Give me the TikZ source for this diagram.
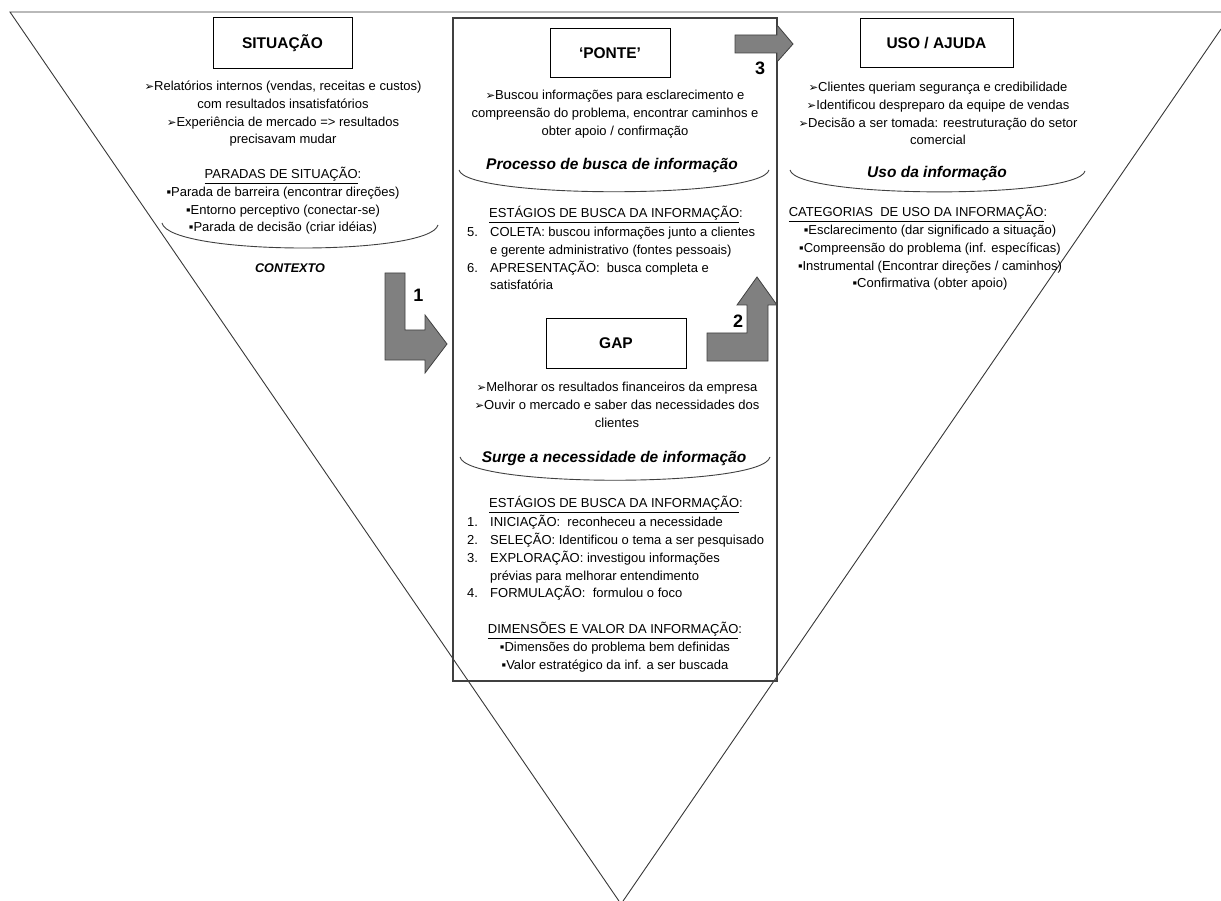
\documentclass[tikz,border=0pt]{standalone}
\usepackage{fontspec}
\setmainfont{Liberation Sans}
\newfontfamily\dingfont{DejaVu Sans}
\newcommand{\arrowbullet}{{\dingfont\fontsize{11.5}{11.5}\selectfont ➢}}
\newcommand{\sqbullet}{▪}
\newcommand{\firststrut}{\rule{0pt}{12.5pt}}
\newcommand{\headul}[1]{\underline{#1}}
\newcommand{\numitem}[1]{\makebox[23pt][l]{#1}}
\newcommand{\numcont}{\hspace*{23pt}}

\begin{document}
\begin{tikzpicture}[x=1pt,y=-1pt,
  body/.style={font=\fontsize{13}{17.7}\selectfont, inner sep=0pt, align=center, anchor=north},
  listbody/.style={font=\fontsize{13}{17.7}\selectfont, inner sep=0pt, align=left, anchor=north west},
  titlebox/.style={draw=black, line width=0.8pt, fill=white, inner sep=0pt,
    text height=11.1pt, text depth=0pt, font=\fontsize{15.5}{15.5}\selectfont\bfseries},
  sectiontitle/.style={font=\fontsize{15.5}{15.5}\selectfont\bfseries\itshape, inner sep=0pt, anchor=base},
  flow/.style={draw=black!75, fill=black!50, line width=0.8pt, line join=miter},
  stepnum/.style={font=\fontsize{18}{18}\selectfont\bfseries, inner sep=0pt, anchor=base},
  bowl/.style={draw=black!75, line width=0.9pt},
  funnel/.style={draw=black!78, line width=0.9pt},
  frame/.style={draw=black!75, line width=1.3pt},
]
\useasboundingbox (0,0) rectangle (1221,901);

% inverted triangle (funnel)
\begin{scope}
  \clip (0,0) rectangle (1221,901);
  \draw[funnel] (1221,12) -- (10,12) -- (621,904) -- (1221,29);
\end{scope}

% central frame
\draw[frame] (453,18) rectangle (777,681);

% ---------- left column: situation ----------
\node[titlebox, minimum width=139pt, minimum height=51pt] (sit) at (282.5,42.5) {SITUAÇÃO};
\node[body] (sitA) at (283,78.2) {\firststrut\arrowbullet Relatórios internos (vendas, receitas e custos)\\
  com resultados insatisfatórios\\
  \arrowbullet Experiência de mercado => resultados\\
  precisavam mudar};
\node[body] (sitB) at (283,166.2) {\firststrut\headul{PARADAS DE SITUAÇÃO}:\\
  \sqbullet Parada de barreira (encontrar direções)\\
  \sqbullet Entorno perceptivo (conectar-se)\\
  \sqbullet Parada de decisão (criar idéias)};
\draw[bowl] (162,223) .. controls (170,256) and (430,256) .. (438,225);
\node[font=\fontsize{12.6}{12.6}\selectfont\bfseries\itshape, inner sep=0pt, anchor=base] (ctx) at (290,272.5) {CONTEXTO};

% ---------- centre: bridge ----------
\node[titlebox, minimum width=120pt, minimum height=49pt] (ponte) at (610,52.5) {‘PONTE’};
\node[body] (ponA) at (615,87.2) {\firststrut\arrowbullet Buscou informações para esclarecimento e\\
  compreensão do problema, encontrar caminhos e\\
  obter apoio / confirmação};
\node[sectiontitle] (proc) at (612,170) {Processo de busca de informação};
\draw[bowl] (459,170) .. controls (466,199) and (762,199) .. (769,170);
\node[body] (ponH) at (616,205.2) {\firststrut\headul{ESTÁGIOS DE BUSCA DA INFORMAÇÃO}:};
\node[listbody] (ponL) at (467,224.2) {\firststrut\numitem{5.}COLETA: buscou informações junto a clientes\\
  \numcont e gerente administrativo (fontes pessoais)\\
  \numitem{6.}APRESENTAÇÃO:\ \ busca completa e\\
  \numcont satisfatória};

% ---------- centre: gap ----------
\node[titlebox, minimum width=140pt, minimum height=50pt] (gap) at (616,343) {GAP};
\node[body] (gapA) at (617,379.2) {\firststrut\arrowbullet Melhorar os resultados financeiros da empresa\\
  \arrowbullet Ouvir o mercado e saber das necessidades dos\\
  clientes};
\node[sectiontitle] (surge) at (614,462) {Surge a necessidade de informação};
\draw[bowl] (460,457) .. controls (467,488) and (763,488) .. (770,457);
\node[body] (gapH) at (616,495.2) {\firststrut\headul{ESTÁGIOS DE BUSCA DA INFORMAÇÃO}:};
\node[listbody] (gapL) at (467,514.2) {\firststrut\numitem{1.}INICIAÇÃO:\ \ reconheceu a necessidade\\
  \numitem{2.}SELEÇÃO: Identificou o tema a ser pesquisado\\
  \numitem{3.}EXPLORAÇÃO: investigou informações\\
  \numcont prévias para melhorar entendimento\\
  \numitem{4.}FORMULAÇÃO:\ \ formulou o foco};
\node[body] (gapD) at (615,621.2) {\firststrut\headul{DIMENSÕES E VALOR DA INFORMAÇÃO}:\\
  \sqbullet Dimensões do problema bem definidas\\
  \sqbullet Valor estratégico da inf. a ser buscada};

% ---------- right column: use ----------
\node[titlebox, minimum width=153pt, minimum height=49pt] (uso) at (936.5,42.5) {USO / AJUDA};
\node[body] (usoA) at (938,79.2) {\firststrut\arrowbullet Clientes queriam segurança e credibilidade\\
  \arrowbullet Identificou despreparo da equipe de vendas\\
  \arrowbullet Decisão a ser tomada: reestruturação do setor\\
  comercial};
\node[sectiontitle] (usoT) at (937,177.5) {Uso da informação};
\draw[bowl] (790,170) .. controls (797,199) and (1078,199) .. (1085,171);
\node[body] (usoH) at (918,204.2) {\firststrut\headul{CATEGORIAS\ \ DE USO DA INFORMAÇÃO}:};
\node[body] (usoB) at (930,222.2) {\firststrut\sqbullet Esclarecimento (dar significado a situação)\\
  \sqbullet Compreensão do problema (inf. específicas)\\
  \sqbullet Instrumental\ (Encontrar direções / caminhos)\\
  \sqbullet Confirmativa (obter apoio)};

% ---------- step arrows ----------
\draw[flow] (385,273) -- (405,273) -- (405,330) -- (425,330) -- (425,315) -- (447,344)
  -- (425,373) -- (425,360) -- (385,360) -- cycle;
\node[stepnum] (n1) at (418.5,302) {1};

\draw[flow] (707,333) -- (747,333) -- (747,305) -- (737,305) -- (757,277) -- (777,305)
  -- (768,305) -- (768,361) -- (707,361) -- cycle;
\node[stepnum] (n2) at (738,327) {2};

\draw[flow] (735,35) -- (777,35) -- (777,25) -- (793,44) -- (777,62) -- (777,53) -- (735,53) -- cycle;
\node[stepnum] (n3) at (760,75) {3};
\end{tikzpicture}
\end{document}
